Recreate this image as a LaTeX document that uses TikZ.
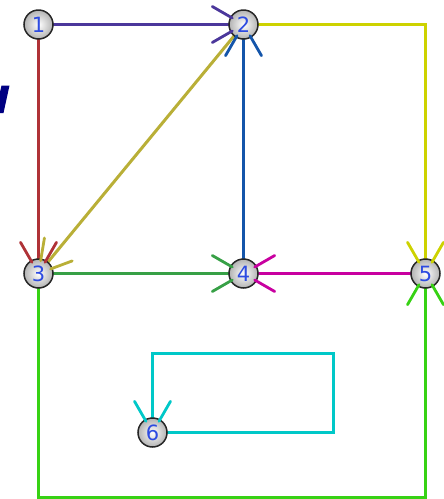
\documentclass[tikz,border=0pt]{standalone}
\usepackage{fontspec}
\newfontfamily\numfont{DejaVu Sans}
\usetikzlibrary{calc}
\definecolor{cpurple}{RGB}{75,55,155}
\definecolor{cred}{RGB}{175,50,55}
\definecolor{colive}{RGB}{185,175,55}
\definecolor{cblue}{RGB}{20,85,170}
\definecolor{cyellow}{RGB}{205,210,0}
\definecolor{cgreen}{RGB}{55,160,70}
\definecolor{cmagenta}{RGB}{200,0,160}
\definecolor{cbright}{RGB}{55,210,20}
\definecolor{ccyan}{RGB}{0,200,200}
\definecolor{cnum}{RGB}{45,75,225}
\definecolor{cnavy}{RGB}{0,0,130}
\tikzset{
  vtx/.style={circle,minimum size=29pt,inner sep=0pt,draw=gray!30!black,line width=1.5pt,
    inner color=white,outer color=gray!60,font=\numfont\fontsize{21}{21}\selectfont,text=cnum},
  edgeline/.style={line width=3pt},
  tipline/.style={line width=2.8pt,line cap=round}
}
\newcommand{\fthead}[3]{% node, angle, colour
  \draw[tipline,#3] ($(#1)+(#2+30:13)$) -- ($(#1)+(#2+30:36)$);
  \draw[tipline,#3] ($(#1)+(#2-30:13)$) -- ($(#1)+(#2-30:36)$);
}
\begin{document}
\begin{tikzpicture}[x=1pt,y=-1pt]
\useasboundingbox (0,0) rectangle (444,499);
\clip (0,0) rectangle (444,499);
\fill[cnavy] (1.5,85.5) -- (9.5,85.5) -- (3.5,113) -- (0,113) -- (0,92) -- cycle;
% coordinates for nodes
\coordinate (p1) at (38.5,24.5);
\coordinate (p2) at (243.5,24.5);
\coordinate (p3) at (38.5,273.5);
\coordinate (p4) at (243.5,273.5);
\coordinate (p5) at (425.5,273.5);
\coordinate (p6) at (152.5,432.5);
\coordinate (b3) at (38.5,497.5);
\coordinate (b5) at (425.5,497.5);
\coordinate (l1) at (333.5,432.5);
\coordinate (l2) at (333.5,353.5);
\coordinate (l3) at (152.5,353.5);
% edges
\draw[edgeline,cpurple] (p1) -- (p2);
\draw[edgeline,cred] (p1) -- (p3);
\draw[edgeline,colive] (p2) -- (p3);
\draw[edgeline,cblue] (p4) -- (p2);
\draw[edgeline,cyellow] (p2) -| (p5);
\draw[edgeline,cgreen] (p3) -- (p4);
\draw[edgeline,cmagenta] (p5) -- (p4);
\draw[edgeline,cbright] (p3) -- (b3) -- (b5) -- (p5);
\draw[edgeline,ccyan] (p6) -- (l1) -- (l2) -- (l3) -- (p6);
% nodes
\node[vtx] (n1) at (p1) {1};
\node[vtx] (n2) at (p2) {2};
\node[vtx] (n3) at (p3) {3};
\node[vtx] (n4) at (p4) {4};
\node[vtx] (n5) at (p5) {5};
\node[vtx] (n6) at (p6) {6};
% arrowheads
\fthead{n2}{180}{cpurple}
\fthead{n2}{90}{cblue}
\fthead{n3}{-90}{cred}
\fthead{n3}{-50.5}{colive}
\fthead{n4}{180}{cgreen}
\fthead{n4}{0}{cmagenta}
\fthead{n5}{-90}{cyellow}
\fthead{n5}{90}{cbright}
\fthead{n6}{-90}{ccyan}
\end{tikzpicture}
\end{document}
